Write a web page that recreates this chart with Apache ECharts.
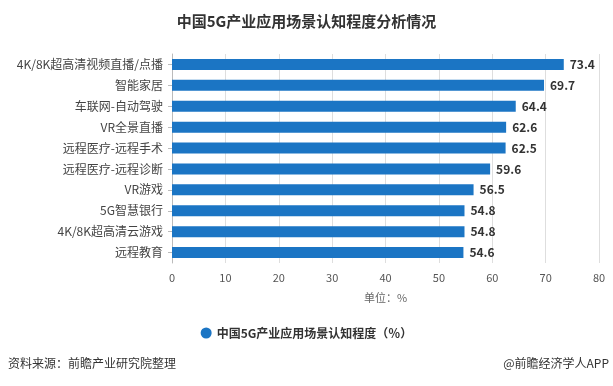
<!DOCTYPE html>
<html><head><meta charset="utf-8">
<script src="https://cdn.jsdelivr.net/npm/echarts@6/dist/echarts.min.js"></script>
<style>html,body{margin:0;padding:0;background:#fff;}#c{width:613px;height:386px;}</style>
</head><body><div id="c"></div>
<script>
const categories = ['4K/8K超高清视频直播/点播','智能家居','车联网-自动驾驶','VR全景直播','远程医疗-远程手术','远程医疗-远程诊断','VR游戏','5G智慧银行','4K/8K超高清云游戏','远程教育'];
const values = [73.4,69.7,64.4,62.6,62.5,59.6,56.5,54.8,54.8,54.6];
const xTicks = [0,10,20,30,40,50,60,70,80];
const seriesName = '中国5G产业应用场景认知程度（％）';
const font = 'Microsoft YaHei, "Noto Sans CJK SC", sans-serif';
const chart = echarts.init(document.getElementById('c'));
chart.setOption({
  animation:false,
  title:{text:'中国5G产业应用场景认知程度分析情况',left:'center',top:9,textStyle:{fontSize:15,fontWeight:'bold',color:'#333',fontFamily:font}},
  grid:{left:172,right:14,top:54,bottom:123,containLabel:false},
  xAxis:{type:'value',min:xTicks[0],max:xTicks[xTicks.length-1],interval:10,
    name:'单位：%',nameLocation:'middle',nameGap:29,nameTextStyle:{color:'#666',fontSize:11,fontFamily:font},
    axisLine:{show:false},axisTick:{show:false},
    axisLabel:{color:'#555',fontSize:11,margin:9,fontFamily:font},
    splitLine:{show:true,lineStyle:{color:'#dedede',width:1}}},
  yAxis:{type:'category',data:categories,inverse:true,
    axisLine:{show:true,lineStyle:{color:'#bbb'}},
    axisTick:{show:true,alignWithLabel:true,length:4,lineStyle:{color:'#bbb'}},
    axisLabel:{color:'#444',fontSize:12,margin:9,fontFamily:font}},
  legend:{data:[seriesName],bottom:42,left:'center',icon:'circle',itemWidth:11,itemHeight:11,itemGap:8,
    textStyle:{fontSize:12,fontWeight:'bold',color:'#333',fontFamily:font}},
  graphic:[
    {type:'text',left:8,top:357,style:{text:'资料来源：前瞻产业研究院整理',fill:'#333',fontSize:12,fontFamily:font}},
    {type:'text',right:4,top:357,style:{text:'@前瞻经济学人APP',fill:'#333',fontSize:12,fontFamily:font}}
  ],
  series:[{name:seriesName,type:'bar',data:values,barWidth:11,itemStyle:{color:'#1b75c4'},
    label:{show:true,position:'right',distance:6,color:'#333',fontWeight:'bold',fontSize:12,fontFamily:font}}]
});
</script></body></html>
